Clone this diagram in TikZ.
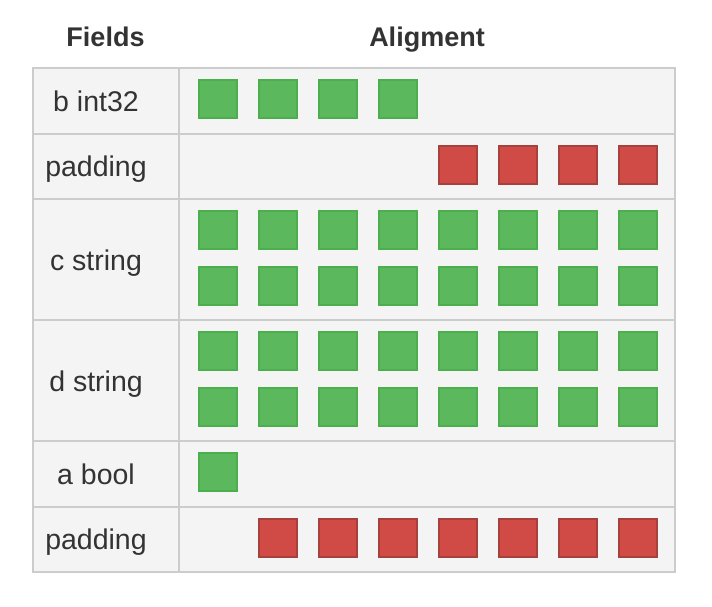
\documentclass[tikz,border=0pt]{standalone}
\usepackage{fontspec}
\setmainfont{Liberation Sans}
\definecolor{gfill}{HTML}{5CB85C}
\definecolor{gline}{HTML}{4CAE4C}
\definecolor{rfill}{HTML}{D14B46}
\definecolor{rline}{HTML}{A7413D}
\definecolor{cellbg}{HTML}{F4F4F4}
\definecolor{gridc}{HTML}{CCCCCC}
\definecolor{txt}{HTML}{333333}
\begin{document}
\begin{tikzpicture}[x=1pt,y=-1pt,
  gsq/.style={draw=gline,fill=gfill,line width=2pt,minimum size=38pt,inner sep=0pt},
  rsq/.style={draw=rline,fill=rfill,line width=2pt,minimum size=38pt,inner sep=0pt},
  lbl/.style={anchor=base,text=txt,inner sep=0pt,font=\fontsize{28.5}{34}\selectfont},
  hdr/.style={lbl,font=\fontsize{27}{33}\selectfont\bfseries},
  gridline/.style={draw=gridc,line width=2pt}]
\useasboundingbox (0,0) rectangle (712,606);
\fill[white] (0,0) rectangle (712,606);
% table background and grid
\fill[cellbg] (33,68) rectangle (675,572);
\draw[gridline] (33,68) rectangle (675,572);
\draw[gridline] (179,68) -- (179,572);
\foreach \yy in {133.5,199,320,441,507} \draw[gridline] (33,\yy) -- (675,\yy);
% headers
\node[hdr] (hfields) at (105.5,46) {Fields};
\node[hdr] (halign) at (427,46) {Aligment};
% labels
\node[lbl] (lb) at (96,111) {b int32};
\node[lbl] (lp1) at (96,176.5) {padding};
\node[lbl] (lc) at (96,270) {c string};
\node[lbl] (ld) at (96,391) {d string};
\node[lbl] (la) at (96,484) {a bool};
\node[lbl] (lp2) at (96,549) {padding};
% squares
\foreach \k in {0,...,3} \node[gsq] (b\k) at (218+60*\k,99) {};
\foreach \k in {4,...,7} \node[rsq] (p\k) at (218+60*\k,165) {};
\foreach \k in {0,...,7} {
  \node[gsq] (ca\k) at (218+60*\k,230) {};
  \node[gsq] (cb\k) at (218+60*\k,286) {};
  \node[gsq] (da\k) at (218+60*\k,351) {};
  \node[gsq] (db\k) at (218+60*\k,407) {};
}
\node[gsq] (a0) at (218,472) {};
\foreach \k in {1,...,7} \node[rsq] (q\k) at (218+60*\k,538) {};
\end{tikzpicture}
\end{document}
